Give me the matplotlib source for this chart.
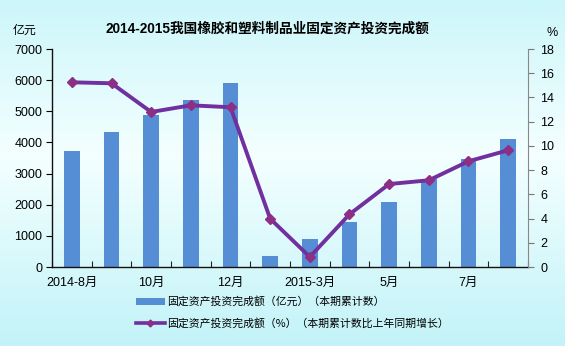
import numpy as np
import matplotlib
matplotlib.use("Agg")
import matplotlib.pyplot as plt
from matplotlib.lines import Line2D
from matplotlib.patches import Patch
from matplotlib.colors import LinearSegmentedColormap

plt.rcParams['font.family'] = ['Liberation Sans', 'Noto Sans CJK SC', 'DejaVu Sans']

months = ["2014-8月", "9月", "10月", "11月", "12月", "2015-2月",
          "2015-3月", "4月", "5月", "6月", "7月", "8月"]
tick_labels = ["2014-8月", "", "10月", "", "12月", "",
               "2015-3月", "", "5月", "", "7月", ""]
investment = [3720, 4335, 4880, 5360, 5905, 355, 900, 1445, 2085, 2815, 3478, 4110]
growth = [15.25, 15.17, 12.8, 13.35, 13.19, 3.99, 0.83, 4.35, 6.85, 7.16, 8.73, 9.64]

title = "2014-2015我国橡胶和塑料制品业固定资产投资完成额"
bar_label = "固定资产投资完成额（亿元）（本期累计数）"
line_label = "固定资产投资完成额（%）（本期累计数比上年同期增长）"

W, H = 565, 346
fig = plt.figure(figsize=(W / 100, H / 100), dpi=100)

# background: soft cyan vertical gradient
bg = fig.add_axes([0, 0, 1, 1], zorder=-10)
cmap = LinearSegmentedColormap.from_list(
    "bg", [(0.0, "#c2f3f8"), (0.55, "#f4ffff"), (1.0, "#ccf6fa")])
grad = np.linspace(0, 1, 256).reshape(-1, 1)
bg.imshow(grad, aspect="auto", cmap=cmap, extent=[0, 1, 0, 1], origin="lower")
bg.axis("off")

ax = fig.add_axes([52 / W, 1 - 267 / H, 476 / W, 218 / H])
ax.patch.set_alpha(0)
x = np.arange(len(months))
ax.bar(x, investment, width=0.4, color="#558ed5", zorder=2)
ax.set_xlim(-0.5, len(months) - 0.5)
ax.set_ylim(0, 7000)
ax.set_yticks(np.arange(0, 7001, 1000))
ax.set_xticks(np.arange(-0.5, len(months), 1.0), minor=False)
ax.set_xticklabels([])
ax.set_xticks(x, minor=True)
ax.set_xticklabels(tick_labels, minor=True)
ax.tick_params(axis="x", which="major", direction="in", length=4, color="#222222")
ax.tick_params(axis="x", which="minor", length=0, pad=7, labelsize=9)
ax.tick_params(axis="y", direction="out", length=4, labelsize=9, pad=3)
for s in ("top", "right"):
    ax.spines[s].set_visible(False)
for s in ("left", "bottom"):
    ax.spines[s].set_color("#111111")
    ax.spines[s].set_linewidth(1.0)

ax2 = ax.twinx()
ax2.plot(x, growth, color="#7030a0", lw=2.8, marker="D", markersize=5.5,
         markerfacecolor="#8e2f86", markeredgecolor="#8e2f86", zorder=3)
ax2.set_ylim(0, 18)
ax2.set_yticks(np.arange(0, 19, 2))
ax2.tick_params(axis="y", direction="out", length=4, labelsize=9, pad=5,
                color="#777777")
for s in ("top", "left", "bottom"):
    ax2.spines[s].set_visible(False)
ax2.spines["right"].set_color("#888888")

fig.text(267 / W, 1 - 29 / H, title, ha="center", va="center",
         fontsize=9.8, fontweight="bold",
         family=["Liberation Sans", "Noto Sans CJK SC"])
fig.text(25 / W, 1 - 30 / H, "亿元", ha="center", va="center", fontsize=8.6,
         family=["Noto Sans CJK SC"])
fig.text(552 / W, 1 - 33 / H, "%", ha="center", va="center", fontsize=9)

handles = [Patch(facecolor="#558ed5", edgecolor="none"),
           Line2D([0], [0], color="#7030a0", lw=2.6, marker="D", markersize=3.5,
                  markerfacecolor="#8e2f86", markeredgecolor="#8e2f86")]
fig.legend(handles, [bar_label, line_label], loc="upper left",
           bbox_to_anchor=(132 / W, 1 - 292 / H), frameon=False,
           prop={"family": ["Noto Sans CJK SC", "DejaVu Sans"], "size": 7.8},
           handlelength=2.6, handleheight=0.6, handletextpad=0.25,
           labelspacing=0.95, borderaxespad=0)

fig.savefig("out.png", dpi=100)
